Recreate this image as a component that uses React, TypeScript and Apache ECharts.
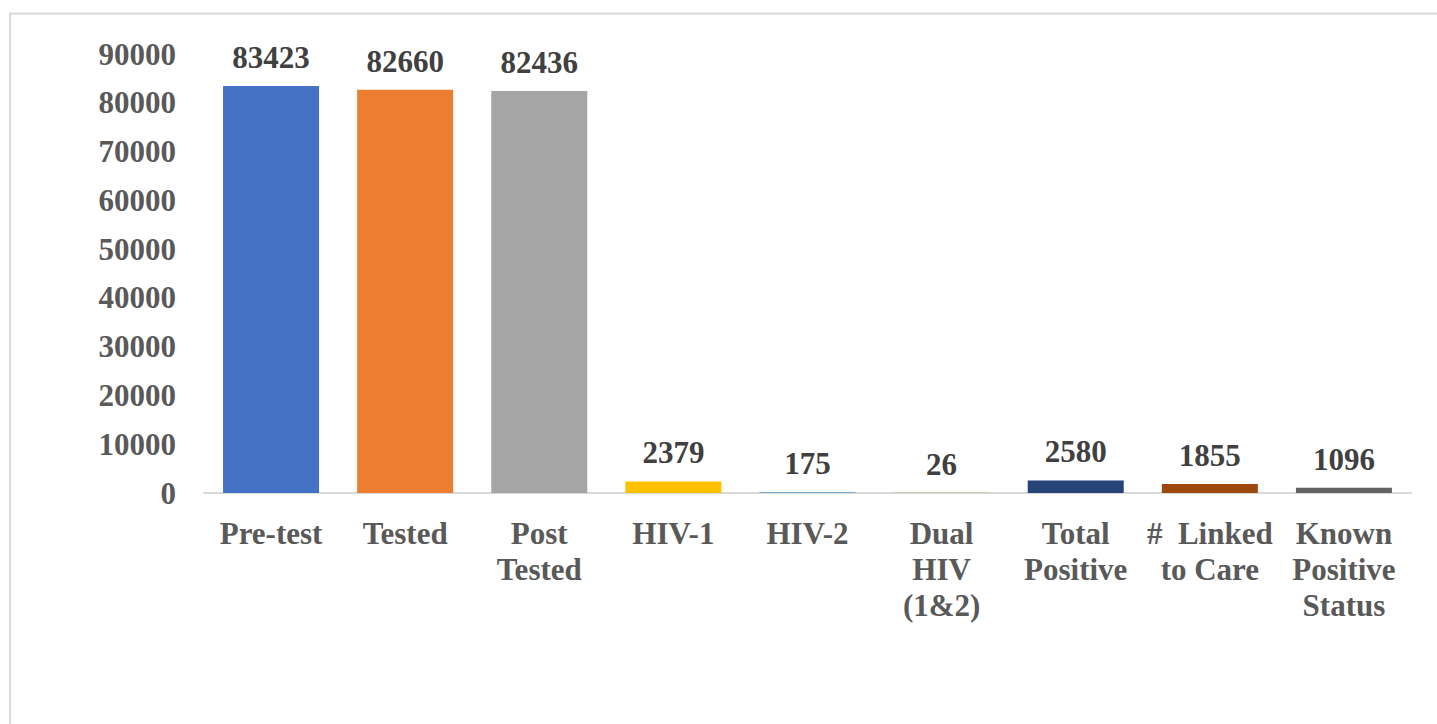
import React, { useEffect, useRef } from "react";
import * as echarts from "echarts";

const categories = [
  "Pre-test",
  "Tested",
  "Post\nTested",
  "HIV-1",
  "HIV-2",
  "Dual\nHIV\n(1&2)",
  "Total\nPositive",
  "#  Linked\nto Care",
  "Known\nPositive\nStatus",
];
const values = [83423, 82660, 82436, 2379, 175, 26, 2580, 1855, 1096];
const barColors = [
  "#4472C4",
  "#ED7D31",
  "#A5A5A5",
  "#FFC000",
  "#5B9BD5",
  "#70AD47",
  "#264478",
  "#9E480E",
  "#636363",
];
const yMin = 0;
const yMax = 90000;
const yInterval = 10000;

const FONT = '"Liberation Serif", "Times New Roman", serif';

export default function App() {
  const ref = useRef<HTMLDivElement>(null);
  useEffect(() => {
    if (!ref.current) return;
    const chart = echarts.init(ref.current, undefined, { renderer: "svg" });
    chart.setOption({
      animation: false,
      backgroundColor: "#ffffff",
      graphic: [
        {
          type: "rect",
          shape: { x: 10, y: 13.5, width: 1500, height: 800 },
          style: { fill: "none", stroke: "#d9d9d9", lineWidth: 2 },
          silent: true,
        },
      ],
      grid: { left: 204, right: 26, top: 54, bottom: 231, containLabel: false },
      xAxis: {
        type: "category",
        data: categories,
        axisLine: { show: true, lineStyle: { color: "#d9d9d9", width: 2 } },
        axisTick: { show: false },
        axisLabel: {
          interval: 0,
          margin: 22,
          color: "#595959",
          fontFamily: FONT,
          fontWeight: "bold",
          fontSize: 31,
          lineHeight: 36,
        },
      },
      yAxis: {
        type: "value",
        min: yMin,
        max: yMax,
        interval: yInterval,
        axisLine: { show: false },
        axisTick: { show: false },
        splitLine: { show: false },
        axisLabel: {
          margin: 28,
          color: "#595959",
          fontFamily: FONT,
          fontWeight: "bold",
          fontSize: 31,
          formatter: (v: number) => String(v),
        },
      },
      series: [
        {
          type: "bar",
          barWidth: 96,
          data: values.map((v, i) => ({ value: v, itemStyle: { color: barColors[i] } })),
          label: {
            show: true,
            position: "top",
            distance: 13,
            color: "#404040",
            fontFamily: FONT,
            fontWeight: "bold",
            fontSize: 31,
          },
        },
      ],
    });
    return () => chart.dispose();
  }, []);
  return (
    <div
      ref={ref}
      style={{ position: "fixed", left: 0, top: 0, width: 1437, height: 724 }}
    />
  );
}
